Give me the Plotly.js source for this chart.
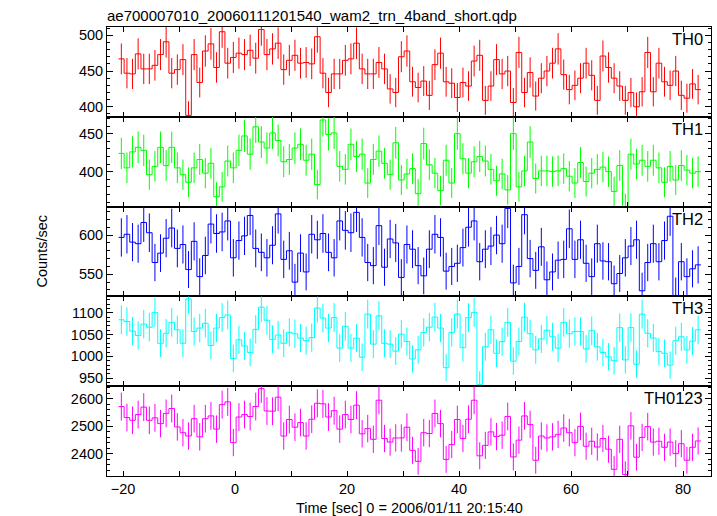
<!DOCTYPE html>
<html>
<head>
<meta charset="utf-8">
<script src="https://cdn.plot.ly/plotly-3.0.1.min.js"></script>
<style>html,body{margin:0;padding:0;background:#fff;}#chart{width:717px;height:516px;}</style>
</head>
<body>
<div id="chart"></div>
<script>
// Bin centres (s), 1-s bins
const times = [-20.3,-19.3,-18.3,-17.3,-16.3,-15.3,-14.3,-13.3,-12.3,-11.3,-10.3,-9.3,-8.3,-7.3,-6.3,-5.3,-4.3,-3.3,-2.3,-1.3,-0.3,
0.7,1.7,2.7,3.7,4.7,5.7,6.7,7.7,8.7,9.7,10.7,11.7,12.7,13.7,14.7,15.7,16.7,17.7,18.7,19.7,20.7,21.7,22.7,23.7,24.7,25.7,26.7,27.7,28.7,29.7,
30.7,31.7,32.7,33.7,34.7,35.7,36.7,37.7,38.7,39.7,40.7,41.7,42.7,43.7,44.7,45.7,46.7,47.7,48.7,49.7,50.7,51.7,52.7,53.7,54.7,55.7,56.7,57.7,58.7,59.7,
60.7,61.7,62.7,63.7,64.7,65.7,66.7,67.7,68.7,69.7,70.7,71.7,72.7,73.7,74.7,75.7,76.7,77.7,78.7,79.7,80.7,81.7,82.7];

const th0 = [467,447,446,474,453,453,458,473,491,447,452,466,388,473,434,478,488,455,505,461,469,475,473,479,468,508,473,481,489,452,465,472,461,462,460,498,447,420,446,446,465,467,489,453,446,446,462,453,425,420,470,478,
435,427,436,416,459,475,435,433,413,434,429,464,472,409,429,466,446,450,406,476,420,448,415,440,450,461,481,445,424,430,440,461,444,409,471,455,440,429,409,420,400,421,476,421,461,435,430,450,416,412,432,424];

const th1 = [424,405,426,432,428,396,407,432,408,432,405,396,386,405,416,398,411,367,380,414,405,428,447,423,459,439,431,451,441,413,416,431,436,415,423,383,468,449,451,407,403,436,420,423,385,416,427,411,396,438,389,397,
404,371,437,409,398,375,415,385,450,417,398,413,420,414,403,388,397,376,450,380,401,439,391,401,401,400,401,404,394,385,412,387,398,403,406,400,374,408,352,423,410,415,407,415,405,386,407,389,408,402,398,400];

const th2 = [597,601,591,589,616,603,565,577,596,609,583,588,556,592,547,574,614,602,604,618,571,593,599,625,583,578,571,587,627,569,580,540,577,553,601,594,602,578,571,618,606,603,629,597,565,561,612,559,595,590,546,588,
582,561,548,582,601,597,554,560,564,584,610,618,566,582,586,600,589,634,539,560,626,570,555,585,543,553,568,569,608,569,594,564,547,589,567,566,538,551,571,586,594,529,565,589,566,593,624,523,566,547,557,562];

const th3 = [1084,1080,1058,1048,1074,1067,1101,1030,1053,1078,1061,1030,1132,1057,1065,1076,1025,1065,1089,1095,995,1038,1024,1009,1062,1113,1083,1039,1049,1030,1055,1052,1042,1036,1043,1111,1088,1065,1089,1019,1069,1019,1042,998,1097,1028,1093,1030,1028,1012,1051,1034,
994,1015,1055,1067,1090,1065,974,1055,1097,1020,1089,1101,935,1022,1061,1007,1034,1078,989,1034,1090,1052,1015,1040,1060,1045,1019,1078,1052,1057,1057,1017,1059,1022,1009,999,990,1066,992,1066,982,1097,1053,1042,1011,1007,980,1036,1045,1015,1035,1061];

const th0123 = [2571,2531,2521,2542,2569,2521,2530,2509,2546,2564,2497,2476,2464,2527,2461,2527,2537,2489,2578,2588,2440,2533,2542,2535,2571,2636,2555,2554,2605,2464,2524,2496,2513,2464,2525,2583,2581,2533,2556,2489,2542,2524,2576,2472,2491,2452,2594,2455,2442,2457,2457,2496,
2412,2372,2476,2473,2546,2509,2379,2433,2524,2455,2525,2594,2392,2430,2479,2462,2467,2535,2388,2449,2537,2506,2376,2464,2457,2461,2470,2493,2476,2440,2499,2427,2445,2424,2455,2416,2343,2452,2324,2501,2387,2459,2498,2442,2445,2423,2442,2400,2436,2376,2423,2446];

const panelNames = ['TH0','TH1','TH2','TH3','TH0123'];
const xTickVals = [-20,-10,0,10,20,30,40,50,60,70,80];
const xTickText = ['\u221220','','0','','20','','40','','60','','80'];

const FONT = 'Liberation Sans, Arial, Helvetica, sans-serif';
const series = [th0, th1, th2, th3, th0123];
const colors = ['#ff0000','#00ff00','#0000ff','#00ffff','#ff00ff'];
const yRanges = [[386,511.6],[354,472.2],[521.8,636.3],[931.5,1137.7],[2318.8,2644.9]];
const yDticks = [50,50,50,50,100];
const yMinor = [10,10,10,10,20];
const binHalf = 0.5;

const traces = [];
const layout = {
  width: 717, height: 516,
  margin: {l: 107, r: 6, t: 27, b: 40},
  paper_bgcolor: '#fff', plot_bgcolor: '#fff',
  showlegend: false,
  font: {family: FONT, size: 14.5, color: '#000'},
  title: {text: 'ae700007010_20060111201540_wam2_trn_4band_short.qdp',
          x: 107/717, xanchor: 'left', y: 1 - 15.5/516, yanchor: 'middle',
          font: {family: FONT, size: 15, color: '#000'}},
  annotations: []
};

const n = series.length;
series.forEach((vals, i) => {
  const sfx = i === 0 ? '' : String(i + 1);
  const xa = 'x' + sfx, ya = 'y' + sfx;
  // step edges derived from bin centres
  const ex = times.map(t => t - binHalf).concat([times[times.length - 1] + binHalf]);
  const ey = vals.concat([vals[vals.length - 1]]);
  traces.push({x: ex, y: ey, xaxis: xa, yaxis: ya, type: 'scatter', mode: 'lines',
    line: {shape: 'hv', color: colors[i], width: 1}, hoverinfo: 'skip'});
  traces.push({x: times, y: vals, xaxis: xa, yaxis: ya, type: 'scatter', mode: 'markers',
    marker: {size: 1, color: 'rgba(0,0,0,0)'},
    error_y: {type: 'sqrt', visible: true, color: colors[i], thickness: 1, width: 0}, hoverinfo: 'skip'});

  const top = 1 - i / n, bot = 1 - (i + 1) / n;
  const xaxis = {
    domain: [0, 1], anchor: ya, range: [-22.86, 85.0],
    tickmode: 'array', tickvals: xTickVals, ticktext: xTickText,
    ticks: 'inside', ticklen: 5, tickcolor: '#000', tickwidth: 1,
    showline: true, linecolor: '#000', linewidth: 1, mirror: 'allticks',
    showgrid: false, zeroline: false,
    showticklabels: i === n - 1,
    tickfont: {family: FONT, size: 14.5, color: '#000'}
  };
  if (i > 0) xaxis.matches = 'x';
  layout['xaxis' + sfx] = xaxis;
  layout['yaxis' + sfx] = {
    domain: [bot, top], anchor: xa, range: yRanges[i],
    dtick: yDticks[i], tick0: 0,
    ticks: 'inside', ticklen: 6, tickcolor: '#000', tickwidth: 1,
    minor: {dtick: yMinor[i], tick0: 0, ticks: 'inside', ticklen: 3, tickcolor: '#000', tickwidth: 1, showgrid: false},
    showline: true, linecolor: '#000', linewidth: 1, mirror: 'allticks',
    showgrid: false, zeroline: false,
    tickfont: {family: FONT, size: 14.5, color: '#000'}
  };
  layout.annotations.push({
    text: panelNames[i], xref: 'paper', x: 1, xanchor: 'right', xshift: -6,
    yref: ya + ' domain', y: 1, yanchor: 'top', yshift: -1,
    showarrow: false, font: {family: FONT, size: 16.5, color: '#000'}
  });
});

layout.annotations.push({
  text: 'Counts/sec', textangle: -90, xref: 'paper', x: (41 - 107) / 604, xanchor: 'center',
  yref: 'paper', y: 0.5, yanchor: 'middle', showarrow: false,
  font: {family: FONT, size: 14.5, color: '#000'}
});
layout.annotations.push({
  text: 'Time [sec] 0 = 2006/01/11 20:15:40', xref: 'paper', x: 0.5, xanchor: 'center',
  yref: 'paper', y: -32 / 449, yanchor: 'middle', showarrow: false,
  font: {family: FONT, size: 14.5, color: '#000'}
});

Plotly.newPlot('chart', traces, layout, {staticPlot: true, displayModeBar: false});
</script>
</body>
</html>
